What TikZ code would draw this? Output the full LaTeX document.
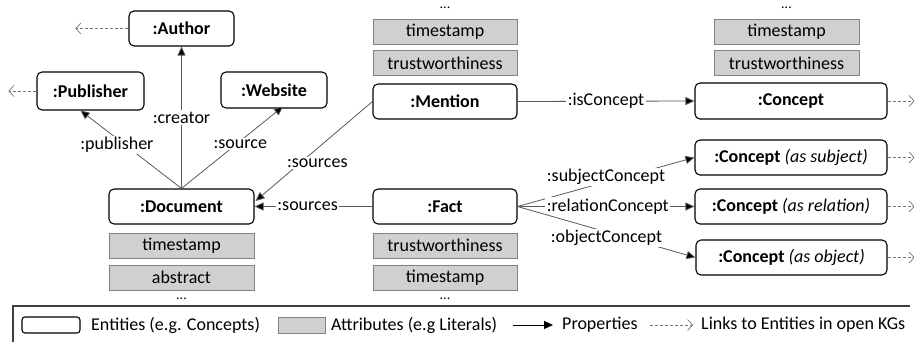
\documentclass[tikz,border=0pt]{standalone}
\usepackage{fontspec}
\setmainfont{Carlito}
\usetikzlibrary{arrows.meta,calc}
\definecolor{attrfill}{RGB}{208,208,208}
\definecolor{attrline}{RGB}{130,130,130}
\begin{document}
\begin{tikzpicture}[x=1pt,y=-1pt,
  font=\fontsize{18}{21}\selectfont,
  entity/.style={draw=black,line width=1.1pt,rounded corners=5pt,inner sep=0pt,
    minimum width=#1,minimum height=35pt,font=\fontsize{18}{21}\selectfont\bfseries},
  entity/.default=144pt,
  attr/.style={draw=attrline,line width=0.9pt,fill=attrfill,inner sep=0pt,
    minimum width=#1,minimum height=25pt},
  attr/.default=144pt,
  dots/.style={inner sep=0pt,font=\fontsize{14}{14}\selectfont},
  prop/.style={draw=black!65,line width=0.8pt,
    -{Triangle[length=9pt,width=8pt,fill=black]}},
  link/.style={draw=black!55,dashed,dash pattern=on 3pt off 2pt,line width=0.7pt,
    -{Straight Barb[length=5pt,width=11pt]}},
  lab/.style={fill=white,inner sep=1.5pt},
]
\useasboundingbox (0,0) rectangle (914,342);

% entities
\node[entity=105pt] (author) at (181.5,28.5) {:Author};
\node[entity=107pt,minimum height=38pt] (publisher) at (90.5,91) {:Publisher};
\node[entity=106pt,minimum height=36pt] (website) at (274,90) {:Website};
\node[entity=145pt] (doc) at (181.5,206.5) {:Document};
\node[entity] (mention) at (445,101.5) {:Mention};
\node[entity] (fact) at (445,206.5) {:Fact};
\node[entity=192pt,minimum height=36pt] (c0) at (791,101) {:Concept};
\node[entity=192pt] (c1) at (791,157.5) {:Concept \textmd{\itshape (as subject)}};
\node[entity=192pt] (c2) at (791,206.5) {:Concept \textmd{\itshape (as relation)}};
\node[entity=191pt] (c3) at (791.5,257.5) {:Concept \textmd{\itshape (as object)}};

% attributes
\node[attr=145pt] (docts) at (181.5,245.5) {timestamp};
\node[attr=145pt] (docabs) at (181.5,277.5) {abstract};
\node[attr] (facttr) at (445,245.5) {trustworthiness};
\node[attr] (factts) at (445,277.5) {timestamp};
\node[attr] (mentts) at (445,31.5) {timestamp};
\node[attr] (menttr) at (445,63) {trustworthiness};
\node[attr=145pt] (c0ts) at (786.5,31.5) {timestamp};
\node[attr=145pt] (c0tr) at (786.5,63) {trustworthiness};

\node[dots] (d1) at (181.5,299) {...};
\node[dots] (d2) at (445,299) {...};
\node[dots] (d3) at (445,8) {...};
\node[dots] (d4) at (786.5,8) {...};

% properties of the document
\draw[prop] (doc.north) -- node[lab,pos=0.5]{:creator} (author.south);
\draw[prop] (doc.north) -- node[lab,pos=0.56,xshift=-8pt]{:publisher}
  ($(publisher.south)+(-10,0)$);
\draw[prop] (doc.north) -- node[lab,pos=0.54,xshift=4pt]{:source}
  ($(website.south)+(9,-2)$);

% sources
\draw[prop] (mention.west) -- node[lab,pos=0.6,xshift=15pt,yshift=-2pt]{:sources}
  ($(doc.east)+(1,-5.5)$);
\draw[prop] (fact.west) -- node[lab,pos=0.55]{:sources} (doc.east);

% concepts
\draw[prop] (mention.east) -- node[lab]{:isConcept} (c0.west);
\draw[prop] (fact.east) -- node[lab,pos=0.5,yshift=5pt]{:subjectConcept} (c1.west);
\draw[prop] (fact.east) -- node[lab,pos=0.51]{:relationConcept} (c2.west);
\draw[prop] (fact.east) -- node[lab,pos=0.5,yshift=-6pt]{:objectConcept} (c3.west);

% links into open KGs
\coordinate (aout) at ($(author.west)+(-53,0)$);
\coordinate (pout) at ($(publisher.west)+(-28,0)$);
\draw[link] (author.west) -- (aout);
\draw[link] (publisher.west) -- (pout);
\foreach \c in {c0,c1,c2,c3}
  \draw[link] (\c.east) -- ++(27,0);

% legend
\draw[black!75,line width=1.3pt] (13,345) -- (13,306) -- (910,306);
\node[draw=black,line width=1.1pt,rounded corners=3pt,inner sep=0pt,
  minimum width=58pt,minimum height=16pt] (lgent) at (51,325) {};
\node[anchor=west,inner sep=0pt] (lgentt) at (91,325) {Entities (e.g. Concepts)};
\node[draw=attrline,line width=0.9pt,fill=attrfill,inner sep=0pt,
  minimum width=47pt,minimum height=16pt] (lgatt) at (301.5,325) {};
\node[anchor=west,inner sep=0pt] (lgattt) at (331,325) {Attributes (e.g Literals)};
\coordinate (lpa) at (513,325);
\coordinate (lpb) at (553,325);
\draw[prop,draw=black] (lpa) -- (lpb);
\node[anchor=west,inner sep=0pt] (lgprop) at (562,325) {Properties};
\coordinate (lla) at (650,325);
\coordinate (llb) at (693,325);
\draw[link] (lla) -- (llb);
\node[anchor=west,inner sep=0pt] (lglink) at (701,325) {Links to Entities in open KGs};
\end{tikzpicture}
\end{document}
